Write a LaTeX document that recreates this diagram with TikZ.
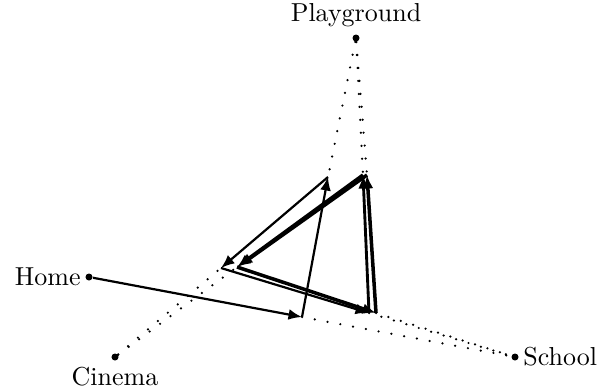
\documentclass[tikz,border=0pt]{standalone}
\usetikzlibrary{arrows.meta}
\begin{document}
\begin{tikzpicture}[x=0.385pt,y=-0.385pt,
  vertex/.style={circle,fill=black,inner sep=0pt,minimum size=2.7pt},
  lbl/.style={inner sep=1.5pt},
  move/.style={-{Latex[length=5.2pt,width=4.2pt]},line width=#1},
  move/.default=0.85pt,
  trace/.style={line width=0.95pt,line cap=round,dash pattern=on 0pt off 5pt}]
\useasboundingbox (0,0) rectangle (600,387);
% vertices
\node[vertex] (P) at (356,38) {};
\node[vertex] (H) at (89,277) {};
\node[vertex] (C) at (115,357) {};
\node[vertex] (S) at (515,357) {};
\node[lbl] (Pl) at (356,15) {Playground};
\node[lbl,anchor=east] (Hl) at (H.west) {Home};
\node[lbl] (Cl) at (115,377) {Cinema};
\node[lbl,anchor=west] (Sl) at (S.east) {School};
% iterates
\coordinate (A1) at (302,317);
\coordinate (B1) at (328,177);
\coordinate (C1) at (221,268);
\coordinate (A2) at (369,313);
\coordinate (B2) at (363,175);
\coordinate (C2) at (237,267);
\coordinate (A3) at (376,313);
\coordinate (B3) at (367,175);
\coordinate (C3) at (239,266);
% dotted traces
\draw[trace] (P) -- (B1);
\draw[trace] (P) -- (B2);
\draw[trace] (P) -- (B3);
\draw[trace] (C) -- (C1);
\draw[trace] (C) -- (C2);
\draw[trace] (A1) -- (S);
\draw[trace] (A2) -- (S);
\draw[trace] (A3) -- (S);
% moves
\draw[move] (H) -- (A1);
\draw[move] (A1) -- (B1);
\draw[move] (B1) -- (C1);
\draw[move] (C1) -- (A2);
\draw[move=1.1pt] (A2) -- (B2);
\draw[move=1.35pt] (B2) -- (C2);
\draw[move=1.35pt] (C2) -- (A3);
\draw[move=1.35pt] (A3) -- (B3);
\draw[move=1.35pt] (B3) -- (C3);
\end{tikzpicture}
\end{document}
